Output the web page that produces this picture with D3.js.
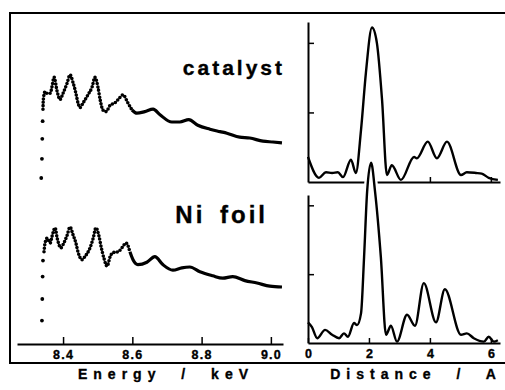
<!DOCTYPE html>
<html>
<head>
<meta charset="utf-8">
<script src="https://cdn.jsdelivr.net/npm/d3@7/dist/d3.min.js"></script>
<style>
  body { margin: 0; background: #fff; }
  svg { display: block; font-family: "Liberation Sans", Arial, sans-serif; font-weight: bold; }
</style>
</head>
<body>
<svg id="chart" width="505" height="390"></svg>
<script>
// XANES / EXAFS spectra, energy in keV, normalized absorption
var catE  = [8.337, 8.339, 8.340, 8.341, 8.342, 8.343, 8.348, 8.351, 8.363, 8.368, 8.374, 8.383, 8.391, 8.400, 8.412, 8.420, 8.429, 8.437, 8.443, 8.449, 8.458, 8.472, 8.484, 8.492, 8.501, 8.507, 8.515, 8.524, 8.536, 8.550, 8.559, 8.573, 8.587, 8.599,
             8.613, 8.636, 8.660, 8.680, 8.714, 8.737, 8.763, 8.789, 8.824, 8.853, 8.873, 8.910, 8.939, 8.977, 9.006, 9.032];
var catMu = [0.15, 0.39, 0.64, 0.86, 1.01, 1.13, 1.23, 1.21, 1.21, 1.29, 1.41, 1.23, 1.13, 1.21, 1.34, 1.44, 1.34, 1.21, 1.09, 1.03, 1.09, 1.19, 1.29, 1.41, 1.28, 1.13, 1.00, 0.98, 1.06, 1.09, 1.13, 1.19, 1.09, 1.00,
             0.96, 0.98, 1.01, 0.94, 0.85, 0.85, 0.88, 0.81, 0.76, 0.73, 0.71, 0.66, 0.65, 0.61, 0.60, 0.59];

var niE  = [8.339, 8.340, 8.341, 8.342, 8.345, 8.348, 8.354, 8.363, 8.368, 8.377, 8.383, 8.394, 8.400, 8.412, 8.420, 8.429, 8.437, 8.443, 8.455, 8.463, 8.478, 8.487, 8.495, 8.504, 8.510, 8.518, 8.527, 8.536, 8.544, 8.559, 8.570, 8.582, 8.593, 8.602,
            8.616, 8.642, 8.665, 8.688, 8.717, 8.743, 8.766, 8.795, 8.832, 8.861, 8.890, 8.925, 8.960, 8.997, 9.032];
var niMu = [0.18, 0.45, 0.73, 0.93, 1.04, 1.15, 1.21, 1.15, 1.23, 1.34, 1.21, 1.09, 1.13, 1.25, 1.35, 1.25, 1.15, 1.04, 0.94, 0.98, 1.09, 1.21, 1.34, 1.23, 1.10, 0.96, 0.86, 0.98, 1.03, 1.04, 1.09, 1.15, 1.04, 0.94,
            0.88, 0.91, 0.98, 0.88, 0.81, 0.84, 0.85, 0.79, 0.74, 0.71, 0.73, 0.68, 0.65, 0.61, 0.60];

// Fourier transforms, distance in A
var catR  = [0.00, 0.36, 0.59, 0.79, 0.98, 1.15, 1.41, 1.57, 1.74, 1.90, 2.10, 2.26, 2.43, 2.59, 2.75, 3.05, 3.48, 3.57, 3.93, 4.23, 4.56, 5.02, 5.21, 5.51, 5.70, 5.93, 6.23];
var catFT = [0.36, 0.06, 0.14, 0.13, 0.14, 0.07, 0.32, 0.13, 0.75, 1.57, 2.22, 2.00, 1.18, 0.10, 0.24, 0.03, 0.36, 0.34, 0.58, 0.34, 0.58, 0.10, 0.14, 0.13, 0.12, 0.06, 0.03];

var niR  = [0.00, 0.13, 0.30, 0.56, 0.79, 1.02, 1.18, 1.31, 1.51, 1.61, 1.74, 1.84, 1.94, 2.07, 2.20, 2.39, 2.56, 2.72, 2.92, 3.25, 3.51, 3.80, 4.20, 4.49, 5.02, 5.21, 5.44, 5.77, 5.93, 6.10, 6.23];
var niFT = [0.30, 0.23, 0.07, 0.19, 0.12, 0.07, 0.14, 0.09, 0.29, 0.26, 0.43, 1.25, 2.20, 2.62, 2.20, 1.25, 0.12, 0.25, 0.02, 0.41, 0.25, 0.87, 0.30, 0.78, 0.12, 0.14, 0.07, 0.02, 0.09, 0.02, 0.04];

var energyTicks = [8.4, 8.6, 8.8, 9.0];
var distTicks = [0, 2, 4, 6];
var ftTicks = [1, 2];
var nEdge = 4;      // first points of the edge drawn as single dots
var dotEnd = 8.6;   // XANES part drawn dotted up to here

var svg = d3.select("#chart");

// outer frame
svg.append("path")
  .attr("d", "M505,13H10V363H505")
  .attr("fill", "none").attr("stroke", "#000").attr("stroke-width", 2);

var xE = d3.scaleLinear().domain([8.267, 9.035]).range([17, 283]);
var yCat = d3.scaleLinear().domain([0, 1]).range([190, 110]);
var yNi = d3.scaleLinear().domain([0, 1]).range([335, 255]);

var xR = d3.scaleLinear().domain([0, 6.3]).range([308, 500]);
var yFT1 = d3.scaleLinear().domain([0, 2.3]).range([182, 22]);
var yFT2 = d3.scaleLinear().domain([0, 2.15]).range([343, 195]);

function drawSpectrum(E, mu, yScale) {
  var pts = E.map(function (e, i) { return { x: e, y: mu[i] }; });
  var edge = pts.slice(0, nEdge);
  var dotted = pts.filter(function (d, i) { return i >= nEdge - 1 && d.x <= dotEnd; });
  var solid = pts.filter(function (d, i) { return d.x >= dotted[dotted.length - 1].x; });

  var line = d3.line()
    .x(function (d) { return xE(d.x); })
    .y(function (d) { return yScale(d.y); })
    .curve(d3.curveMonotoneX);

  svg.append("g").selectAll("circle")
    .data(edge).enter().append("circle")
    .attr("cx", function (d) { return xE(d.x); })
    .attr("cy", function (d) { return yScale(d.y); })
    .attr("r", 1.9).attr("fill", "#000");

  svg.append("path").datum(dotted.slice(1))
    .attr("d", line)
    .attr("fill", "none").attr("stroke", "#000")
    .attr("stroke-width", 3.6).attr("stroke-linecap", "round")
    .attr("stroke-dasharray", "0,3.4");

  svg.append("path").datum(solid)
    .attr("d", line)
    .attr("fill", "none").attr("stroke", "#000")
    .attr("stroke-width", 3.2).attr("stroke-linejoin", "round");
}

drawSpectrum(catE, catMu, yCat);
drawSpectrum(niE, niMu, yNi);

function boldText(sel, size) {
  sel.attr("font-size", size).attr("font-weight", "bold")
    .attr("font-family", "Liberation Sans, Arial, sans-serif")
    .attr("stroke", "#000").attr("stroke-width", 0.35);
}

// energy axis
var gE = svg.append("g")
  .attr("transform", "translate(0," + 344 + ")")
  .call(d3.axisBottom(xE).tickValues(energyTicks).tickSize(-7).tickSizeOuter(0)
    .tickPadding(6).tickFormat(d3.format(".1f")));
gE.select(".domain").attr("stroke-width", 2);
gE.selectAll(".tick line").attr("stroke-width", 1.5);
boldText(gE.selectAll("text").attr("letter-spacing", 1.2), 12.5);

// FT panels
var ftLine = function (yScale) {
  return d3.line()
    .x(function (d) { return xR(d.x); })
    .y(function (d) { return yScale(d.y); })
    .curve(d3.curveMonotoneX);
};

function ftAxes(yScale, base, labels) {
  var gx = svg.append("g")
    .attr("transform", "translate(0," + base + ")")
    .call(d3.axisBottom(xR).tickValues(labels ? distTicks : distTicks.slice(1))
      .tickSize(-5).tickSizeOuter(0).tickPadding(6)
      .tickFormat(labels ? d3.format("d") : ""));
  gx.select(".domain").attr("stroke-width", 2);
  gx.selectAll(".tick line").attr("stroke-width", 1.5);
  boldText(gx.selectAll("text"), 12.5);

  var gy = svg.append("g")
    .attr("transform", "translate(" + 308 + ",0)")
    .call(d3.axisRight(yScale).tickValues(ftTicks).tickSize(6).tickSizeOuter(0).tickFormat(""));
  gy.select(".domain").attr("stroke-width", 2);
  gy.selectAll(".tick line").attr("stroke-width", 1.5);
}

var catPts = catR.map(function (r, i) { return { x: r, y: catFT[i] }; });
var niPts = niR.map(function (r, i) { return { x: r, y: niFT[i] }; });

ftAxes(yFT1, 182, false);
svg.append("path").datum(catPts)
  .attr("d", ftLine(yFT1))
  .attr("fill", "none").attr("stroke", "#000").attr("stroke-width", 2.4)
  .attr("stroke-linejoin", "round");

// lower curve pokes through the upper baseline: white underlay
svg.append("path").datum(niPts)
  .attr("d", d3.area()
    .x(function (d) { return xR(d.x); })
    .y0(yFT2(0))
    .y1(function (d) { return yFT2(d.y); })
    .curve(d3.curveMonotoneX))
  .attr("fill", "#fff");
svg.append("path").datum(niPts)
  .attr("d", ftLine(yFT2))
  .attr("fill", "none").attr("stroke", "#fff").attr("stroke-width", 7);

ftAxes(yFT2, 343, true);
svg.append("path").datum(niPts)
  .attr("d", ftLine(yFT2))
  .attr("fill", "none").attr("stroke", "#000").attr("stroke-width", 2.4)
  .attr("stroke-linejoin", "round");

// labels
boldText(svg.append("text").attr("x", 285).attr("y", 75)
  .attr("text-anchor", "end").attr("letter-spacing", 3)
  .text("catalyst"), 21);
boldText(svg.append("text").attr("x", 268).attr("y", 223)
  .attr("text-anchor", "end").attr("letter-spacing", 3)
  .attr("word-spacing", 5)
  .text("Ni foil"), 24);

boldText(svg.append("text").attr("x", 166).attr("y", 379)
  .attr("text-anchor", "middle").attr("letter-spacing", 6)
  .attr("word-spacing", 10)
  .text("Energy / keV"), 14);
boldText(svg.append("text").attr("x", 416).attr("y", 379)
  .attr("text-anchor", "middle").attr("letter-spacing", 6)
  .attr("word-spacing", 10)
  .text("Distance / A"), 14);
</script>
</body>
</html>
